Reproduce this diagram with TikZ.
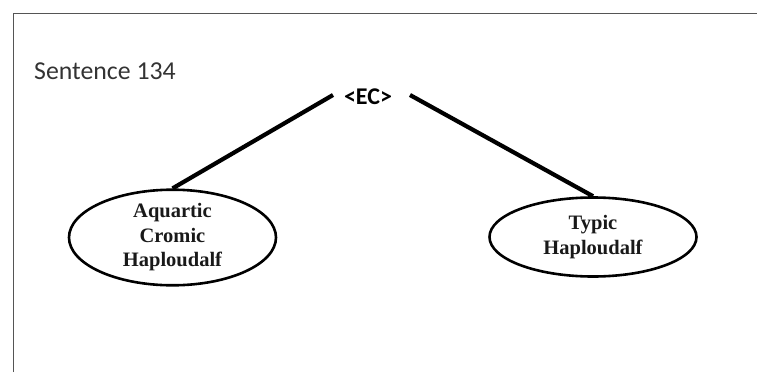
\documentclass[tikz,border=0pt]{standalone}
\usepackage{fontspec}
\setmainfont{Liberation Serif}
\newfontfamily\labelfont{Carlito}
\usetikzlibrary{shapes.geometric}
\definecolor{framegray}{HTML}{555555}
\definecolor{captiongray}{HTML}{333333}
\tikzset{
  frameline/.style={draw=framegray, line width=1.6pt},
  branch/.style={draw=black, line width=4.2pt},
  leaf/.style={ellipse, draw=black, line width=2.6pt, minimum width=207pt,
    minimum height=79pt, inner sep=0pt, align=center,
    font=\fontsize{20.5}{24.5}\selectfont\bfseries, text=black!90},
  rootlabel/.style={font=\labelfont\fontsize{24}{28}\selectfont\bfseries, inner sep=0pt},
  caption/.style={font=\labelfont\fontsize{25.8}{30}\selectfont, text=captiongray, inner sep=0pt}
}
\begin{document}
\begin{tikzpicture}[x=1pt, y=-1pt]
  \useasboundingbox (0,0) rectangle (757,372);
  % page frame (left and top edges)
  \draw[frameline] (13.5,372) -- (13.5,13.5) -- (757,13.5);
  % caption
  \node[caption, anchor=base west] (cap) at (34,79.5) {Sentence 134};
  % root and leaves
  \node[rootlabel, anchor=base] (root) at (368,104) {<EC>};
  \node[leaf] (left) at (172.5,237.5) {Aquartic\\Cromic\\Haploudalf};
  \node[leaf] (right) at (593,237) {Typic\\Haploudalf};
  % branch end points beside the root label
  \coordinate (rootL) at (333,95);
  \coordinate (rootR) at (410,95);
  \draw[branch] (rootL) -- (left.north);
  \draw[branch] (rootR) -- (right.north);
\end{tikzpicture}
\end{document}
